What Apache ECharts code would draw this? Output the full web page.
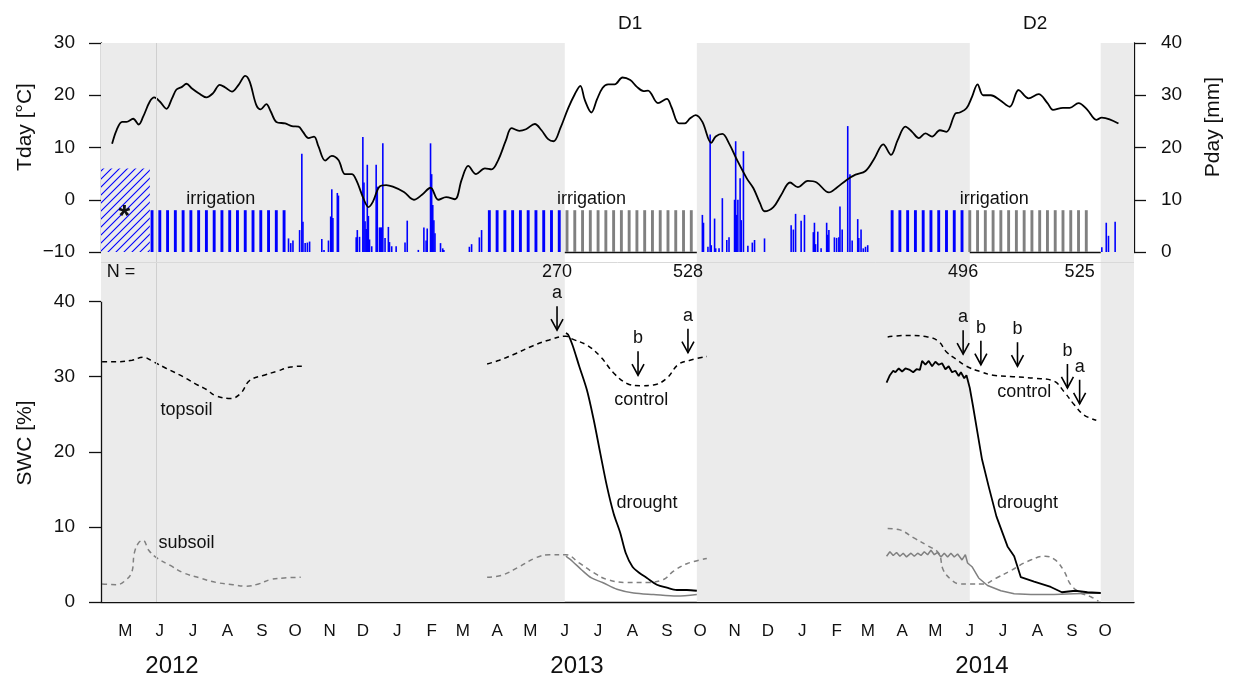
<!DOCTYPE html>
<html>
<head>
<meta charset="utf-8">
<title>Tday, Pday and SWC 2012–2014</title>
<script src="https://cdn.jsdelivr.net/npm/echarts@6/dist/echarts.min.js"></script>
<style>
  html, body { margin: 0; padding: 0; background: #ffffff; }
  #chart { width: 1238px; height: 678px; }
</style>
</head>
<body>
<div id="chart"></div>
<script>
// ---------- data ----------
const START = '2012-04-09';
const END = '2014-10-27';

// month ticks along the bottom axis
const monthTicks = ['2012-05-01','2012-06-01','2012-07-01','2012-08-01','2012-09-01','2012-10-01','2012-11-01','2012-12-01',
  '2013-01-01','2013-02-01','2013-03-01','2013-04-01','2013-05-01','2013-06-01','2013-07-01','2013-08-01','2013-09-01','2013-10-01','2013-11-01','2013-12-01',
  '2014-01-01','2014-02-01','2014-03-01','2014-04-01','2014-05-01','2014-06-01','2014-07-01','2014-08-01','2014-09-01','2014-10-01'];
const monthLabels = ['M','J','J','A','S','O','N','D','J','F','M','A','M','J','J','A','S','O','N','D','J','F','M','A','M','J','J','A','S','O'];
const yearTicks = ['2012-06-12','2013-06-12','2014-06-12'];
const yearLabels = ['2012','2013','2014'];

// roof-on drought periods D1, D2
const droughtPeriods = [['2013-06-01','2013-09-28'], ['2014-06-01','2014-09-27']];
const periodNames = ['D1', 'D2'];
const referenceDay = '2012-05-29';

// daily mean air temperature [°C]
const tday = [
  ['2012-04-19',10.7],['2012-04-23',13.3],['2012-04-28',14.9],['2012-05-02',14.9],['2012-05-08',15.5],['2012-05-13',14.4],
  ['2012-05-17',15.9],['2012-05-23',18.8],['2012-05-27',19.6],['2012-06-01',18.8],['2012-06-07',17.4],['2012-06-12',19.4],
  ['2012-06-16',21.1],['2012-06-21',21.6],['2012-06-25',22.2],['2012-06-30',21.3],['2012-07-06',20.4],['2012-07-13',19.6],
  ['2012-07-19',20.4],['2012-07-25',22.0],['2012-07-30',21.5],['2012-08-05',20.7],['2012-08-11',22.0],['2012-08-17',23.7],
  ['2012-08-21',22.6],['2012-08-27',18.1],['2012-08-31',17.3],['2012-09-05',18.3],['2012-09-09',16.9],['2012-09-14',14.9],
  ['2012-09-22',14.6],['2012-09-28',14.1],['2012-10-04',14.0],['2012-10-08',13.0],['2012-10-13',11.8],['2012-10-18',12.1],
  ['2012-10-22',10.2],['2012-10-28',7.5],['2012-11-03',8.4],['2012-11-09',7.6],['2012-11-15',4.9],['2012-11-21',4.9],
  ['2012-11-25',3.8],['2012-12-02',0.0],['2012-12-06',-1.4],['2012-12-10',-0.4],['2012-12-16',2.5],['2012-12-22',2.8],
  ['2012-12-28',2.5],['2013-01-07',1.5],['2013-01-16',0.0],['2013-01-23',0.9],['2013-01-31',2.3],['2013-02-07',0.0],
  ['2013-02-14',0.5],['2013-02-22',0.1],['2013-02-28',3.8],['2013-03-06',6.5],['2013-03-13',4.9],['2013-03-21',6.0],
  ['2013-03-27',5.8],['2013-04-02',7.6],['2013-04-09',11.4],['2013-04-14',13.7],['2013-04-21',13.2],['2013-04-27',13.5],
  ['2013-05-05',14.5],['2013-05-11',13.3],['2013-05-17',11.6],['2013-05-22',11.2],['2013-05-28',13.7],['2013-06-04',17.5],
  ['2013-06-10',20.2],['2013-06-15',21.8],['2013-06-19',19.1],['2013-06-25',16.7],['2013-06-30',19.2],['2013-07-05',21.4],
  ['2013-07-10',22.1],['2013-07-16',22.1],['2013-07-23',23.4],['2013-07-30',22.9],['2013-08-05',21.6],['2013-08-11',20.8],
  ['2013-08-15',20.9],['2013-08-24',18.5],['2013-09-01',19.3],['2013-09-05',17.8],['2013-09-12',14.6],['2013-09-17',14.6],
  ['2013-09-22',15.6],['2013-09-27',16.2],['2013-10-03',14.9],['2013-10-11',10.9],['2013-10-15',12.1],['2013-10-21',12.6],
  ['2013-10-27',10.8],['2013-11-03',7.7],['2013-11-12',4.1],['2013-11-18',2.2],['2013-11-24',-0.7],['2013-11-28',-2.2],
  ['2013-12-06',-1.4],['2013-12-13',0.9],['2013-12-21',3.3],['2013-12-28',2.4],['2014-01-06',3.6],['2014-01-14',3.3],
  ['2014-01-25',1.4],['2014-02-01',2.3],['2014-02-10',3.8],['2014-02-18',4.8],['2014-02-27',5.5],['2014-03-07',7.9],
  ['2014-03-15',10.6],['2014-03-22',8.6],['2014-03-28',11.4],['2014-04-04',14.0],['2014-04-10',13.0],['2014-04-16',11.8],
  ['2014-04-22',12.7],['2014-04-28',12.1],['2014-05-05',13.3],['2014-05-11',13.0],['2014-05-19',16.5],['2014-05-23',16.7],
  ['2014-05-29',17.5],['2014-06-03',19.7],['2014-06-08',22.1],['2014-06-13',20.0],['2014-06-20',20.0],['2014-06-28',19.1],
  ['2014-07-07',17.8],['2014-07-15',21.0],['2014-07-24',19.4],['2014-08-02',20.2],['2014-08-10',18.5],['2014-08-15',17.2],
  ['2014-08-24',17.6],['2014-08-30',17.6],['2014-09-07',18.5],['2014-09-15',17.2],['2014-09-23',15.3],['2014-09-28',15.7],
  ['2014-10-05',15.4],['2014-10-13',14.6]
];

// daily precipitation [mm]
const pday = [
  ['2012-09-25',2.6],['2012-09-27',1.7],['2012-09-29',2.2],['2012-10-05',4.2],['2012-10-07',18.8],['2012-10-08',5.8],
  ['2012-10-10',1.7],['2012-10-12',1.8],['2012-10-14',2.0],['2012-10-25',2.5],['2012-10-27',0.4],['2012-10-31',2.2],
  ['2012-11-02',6.8],['2012-11-03',12.0],['2012-11-04',6.5],['2012-11-08',11.3],['2012-11-09',10.8],['2012-11-25',2.8],
  ['2012-11-26',4.2],['2012-11-28',2.9],['2012-12-01',22.0],['2012-12-02',13.3],['2012-12-03',5.9],['2012-12-04',4.4],
  ['2012-12-05',16.7],['2012-12-06',6.9],['2012-12-07',2.4],['2012-12-09',1.1],['2012-12-13',16.7],['2012-12-14',12.5],
  ['2012-12-16',4.7],['2012-12-17',4.7],['2012-12-18',4.7],['2012-12-19',20.8],['2012-12-21',2.7],['2012-12-24',4.8],
  ['2012-12-25',1.9],['2012-12-27',1.1],['2012-12-31',1.1],['2013-01-08',1.8],['2013-01-10',6.0],['2013-01-20',0.4],
  ['2013-01-25',4.7],['2013-01-27',2.2],['2013-01-28',4.5],['2013-01-31',20.8],['2013-02-01',14.9],['2013-02-02',9.0],
  ['2013-02-03',6.1],['2013-02-04',3.6],['2013-02-09',1.7],['2013-02-11',0.7],['2013-02-12',0.4],['2013-03-07',1.0],
  ['2013-03-09',1.5],['2013-03-16',2.8],['2013-03-18',4.2],
  ['2013-10-03',7.1],['2013-10-04',5.6],['2013-10-08',1.0],['2013-10-10',22.5],['2013-10-11',1.3],['2013-10-14',6.4],
  ['2013-10-15',0.7],['2013-10-18',0.7],['2013-10-21',10.3],['2013-10-25',2.3],['2013-10-27',2.8],['2013-11-01',10.0],
  ['2013-11-02',21.2],['2013-11-03',7.1],['2013-11-04',10.0],['2013-11-06',14.1],['2013-11-07',6.1],['2013-11-09',19.3],
  ['2013-11-13',1.2],['2013-11-17',1.8],['2013-11-19',2.3],['2013-11-28',2.6],['2013-12-22',5.1],['2013-12-24',4.3],
  ['2013-12-26',7.3],['2013-12-31',6.0],['2014-01-03',7.1],['2014-01-11',3.8],['2014-01-12',5.6],['2014-01-13',1.5],
  ['2014-01-15',3.9],['2014-01-18',0.7],['2014-01-23',5.6],['2014-01-24',3.3],['2014-01-25',4.2],['2014-01-30',2.8],
  ['2014-02-01',2.7],['2014-02-03',2.8],['2014-02-04',8.7],['2014-02-06',4.3],['2014-02-11',24.1],['2014-02-13',14.9],
  ['2014-02-15',2.2],['2014-02-20',6.3],['2014-02-21',2.7],['2014-02-23',4.3],['2014-02-25',0.7],['2014-02-27',1.0],
  ['2014-03-01',1.3],
  ['2014-09-28',0.9],['2014-10-02',5.6],['2014-10-04',3.1],['2014-10-10',5.8]
];

// weekly irrigation [mm]: all plots (blue) and control plots under the roof (grey)
const irrigationAll = [
  ['2012-05-25',8],['2012-06-01',8],['2012-06-08',8],['2012-06-15',8],['2012-06-22',8],['2012-06-29',8],['2012-07-06',8],
  ['2012-07-13',8],['2012-07-20',8],['2012-07-27',8],['2012-08-03',8],['2012-08-10',8],['2012-08-17',8],['2012-08-24',8],
  ['2012-08-31',8],['2012-09-07',8],['2012-09-14',8],['2012-09-21',8],
  ['2013-03-25',8],['2013-04-01',8],['2013-04-08',8],['2013-04-15',8],['2013-04-22',8],['2013-04-29',8],['2013-05-06',8],
  ['2013-05-13',8],['2013-05-20',8],['2013-05-27',8],
  ['2014-03-23',8],['2014-03-30',8],['2014-04-06',8],['2014-04-13',8],['2014-04-20',8],['2014-04-27',8],['2014-05-04',8],
  ['2014-05-11',8],['2014-05-18',8],['2014-05-25',8]
];
const irrigationControl = [
  ['2013-06-03',8],['2013-06-10',8],['2013-06-17',8],['2013-06-24',8],['2013-07-01',8],['2013-07-08',8],['2013-07-15',8],
  ['2013-07-22',8],['2013-07-29',8],['2013-08-05',8],['2013-08-12',8],['2013-08-19',8],['2013-08-26',8],['2013-09-02',8],
  ['2013-09-09',8],['2013-09-16',8],['2013-09-23',8],
  ['2014-06-01',8],['2014-06-08',8],['2014-06-15',8],['2014-06-22',8],['2014-06-29',8],['2014-07-06',8],['2014-07-13',8],
  ['2014-07-20',8],['2014-07-27',8],['2014-08-03',8],['2014-08-10',8],['2014-08-17',8],['2014-08-24',8],['2014-08-31',8],
  ['2014-09-07',8],['2014-09-14',8]
];
// block irrigation before the weekly schedule (*)
const initialIrrigation = { from: '2012-04-09', to: '2012-05-23', mm: 16 };

// soil water content [%]
const topsoil2012 = [['2012-04-10',32.0],['2012-04-23',32.0],['2012-05-07',32.2],['2012-05-17',32.6],['2012-05-26',32.0],
  ['2012-06-07',31.1],['2012-06-22',30.0],['2012-07-05',28.9],['2012-07-13',28.3],['2012-07-21',27.5],['2012-08-04',27.1],
  ['2012-08-13',27.8],['2012-08-21',29.5],['2012-09-03',30.2],['2012-09-14',30.7],['2012-09-27',31.3],['2012-10-07',31.4]];
const subsoil2012 = [['2012-04-10',2.4],['2012-04-23',2.3],['2012-05-02',3.0],['2012-05-07',4.1],['2012-05-09',6.5],
  ['2012-05-13',7.9],['2012-05-17',8.2],['2012-05-22',6.9],['2012-05-29',5.9],['2012-06-10',4.9],['2012-06-22',3.9],
  ['2012-07-07',3.2],['2012-07-22',2.6],['2012-08-06',2.3],['2012-08-18',2.1],['2012-08-29',2.4],['2012-09-09',3.0],
  ['2012-09-21',3.2],['2012-10-06',3.3]];

const controlTop2013 = [['2013-03-23',31.7],['2013-04-03',32.2],['2013-04-18',33.1],['2013-05-03',34.1],['2013-05-18',34.9],
  ['2013-06-02',35.4],['2013-06-08',35.0],['2013-06-21',34.2],['2013-07-03',32.7],['2013-07-15',30.5],['2013-07-27',29.1],
  ['2013-08-08',28.8],['2013-08-20',28.9],['2013-09-01',29.8],['2013-09-11',31.6],['2013-09-22',32.2],['2013-10-07',32.7]];
const controlSub2013 = [['2013-03-23',3.3],['2013-04-06',3.6],['2013-04-21',4.7],['2013-05-06',5.9],['2013-05-18',6.3],
  ['2013-06-02',6.3],['2013-06-14',5.2],['2013-06-27',3.9],['2013-07-09',3.0],['2013-07-27',2.6],['2013-08-14',2.6],
  ['2013-08-29',3.0],['2013-09-07',4.1],['2013-09-19',5.1],['2013-10-07',5.8]];
const droughtTop2013 = [['2013-06-02',35.8],['2013-06-04',35.6],['2013-06-08',34.2],['2013-06-14',31.4],['2013-06-21',28.2],
  ['2013-06-27',24.3],['2013-07-03',19.8],['2013-07-09',15.4],['2013-07-15',11.8],['2013-07-21',9.2],['2013-07-26',6.5],
  ['2013-08-01',4.7],['2013-08-07',3.9],['2013-08-14',3.2],['2013-08-23',2.3],['2013-09-01',1.9],['2013-09-10',1.6],
  ['2013-09-19',1.6],['2013-09-28',1.5]];
const droughtSub2013 = [['2013-06-02',6.1],['2013-06-08',5.4],['2013-06-16',4.3],['2013-06-25',3.2],['2013-07-05',2.6],
  ['2013-07-18',1.7],['2013-08-02',1.2],['2013-08-20',1.0],['2013-09-10',0.8],['2013-09-28',1.0]];

const controlTop2014 = [['2014-03-19',35.3],['2014-04-05',35.5],['2014-04-24',35.3],['2014-05-04',34.7],['2014-05-11',33.3],
  ['2014-05-20',32.3],['2014-05-29',31.4],['2014-06-10',30.7],['2014-06-22',30.2],['2014-07-10',30.0],['2014-07-29',29.8],
  ['2014-08-16',29.4],['2014-08-25',28.0],['2014-09-03',26.3],['2014-09-12',24.9],['2014-09-23',24.2]];
const controlSub2014 = [['2014-03-19',9.8],['2014-03-30',9.6],['2014-04-12',8.5],['2014-04-24',7.5],['2014-05-04',6.5],
  ['2014-05-08',4.3],['2014-05-15',3.0],['2014-05-23',2.4],['2014-06-01',2.4],['2014-06-13',2.4],['2014-06-25',3.2],
  ['2014-07-07',4.1],['2014-07-23',5.4],['2014-08-08',6.1],['2014-08-17',5.6],['2014-08-25',4.1],['2014-08-31',2.3],
  ['2014-09-09',1.2],['2014-09-18',0.7],['2014-09-25',0.1]];
const droughtTop2014 = [['2014-03-18',29.2],['2014-03-21',30.2],['2014-03-24',30.8],['2014-03-26',30.6],['2014-03-29',31.1],
  ['2014-04-01',30.7],['2014-04-04',31.1],['2014-04-08',30.9],['2014-04-11',30.6],['2014-04-14',31.0],['2014-04-17',30.9],
  ['2014-04-19',32.1],['2014-04-22',31.6],['2014-04-25',32.1],['2014-04-28',31.4],['2014-05-01',32.0],['2014-05-04',31.6],
  ['2014-05-07',31.8],['2014-05-10',31.0],['2014-05-13',31.4],['2014-05-16',30.6],['2014-05-19',30.8],['2014-05-22',30.1],
  ['2014-05-24',30.6],['2014-05-27',29.8],['2014-05-29',30.2],['2014-06-01',28.5],['2014-06-04',26.0],['2014-06-08',22.5],
  ['2014-06-12',19.0],['2014-06-18',15.4],['2014-06-25',11.4],['2014-07-05',7.4],['2014-07-11',6.1],['2014-07-17',3.3],
  ['2014-07-29',2.7],['2014-08-13',2.0],['2014-08-23',1.3],['2014-09-04',1.5],['2014-09-15',1.3],['2014-09-27',1.2]];
const droughtSub2014 = [['2014-03-18',6.1],['2014-03-21',6.7],['2014-03-24',6.2],['2014-03-27',6.6],['2014-03-30',6.1],
  ['2014-04-02',6.5],['2014-04-05',6.0],['2014-04-09',6.5],['2014-04-12',6.1],['2014-04-15',6.5],['2014-04-18',6.2],
  ['2014-04-21',6.7],['2014-04-24',6.3],['2014-04-27',6.9],['2014-04-30',6.3],['2014-05-03',6.6],['2014-05-06',6.0],
  ['2014-05-09',6.5],['2014-05-12',6.0],['2014-05-15',6.5],['2014-05-18',6.0],['2014-05-21',6.4],['2014-05-25',5.6],
  ['2014-05-28',6.3],['2014-05-30',5.2],['2014-06-03',4.7],['2014-06-09',3.2],['2014-06-17',2.2],['2014-06-29',1.5],
  ['2014-07-11',1.1],['2014-07-26',1.0],['2014-08-16',1.0],['2014-09-03',1.1],['2014-09-27',1.2]];

// sampling dates with significance letters, and sample sizes
const samplingArrows = [['2013-05-25',36.2],['2013-08-06',30.2],['2013-09-20',33.2],
  ['2014-05-26',33.0],['2014-06-11',31.6],['2014-07-14',31.4],['2014-08-28',28.5],['2014-09-08',26.4]];
const samplingLetters = ['a','b','a','a','b','b','b','a'];
const sampleSizes = [['2013-05-25','270'],['2013-09-20','528'],['2014-05-26','496'],['2014-09-08','525']];

// text annotations [date, value, text]
const topNotes = [['2012-07-26',10.1,'irrigation'],['2013-06-25',10.1,'irrigation'],['2014-06-23',10.1,'irrigation']];
const bottomNotes = [['2012-06-25',25.5,'topsoil'],['2012-06-25',7.85,'subsoil'],['2013-08-09',26.9,'control'],
  ['2013-08-14',13.2,'drought'],['2014-07-20',27.9,'control'],['2014-07-23',13.2,'drought']];

// ---------- helpers ----------
const FONT = '"Liberation Sans", Arial, Helvetica, sans-serif';
const INK = '#111111';
const SHADE = '#ebebeb';
const BLUE = '#0000ff';
const GREY = '#808080';
const toTime = s => { const p = s.split('-').map(Number); return new Date(p[0], p[1] - 1, p[2]).getTime(); };
const asTime = arr => arr.map(d => [toTime(d[0]), d[1]]);
const tMin = toTime(START), tMax = toTime(END);
const monthTimes = monthTicks.map(toTime);
const yearTimes = yearTicks.map(toTime);
const nearestLabel = (times, labels) => v => {
  for (let i = 0; i < times.length; i++) if (Math.abs(times[i] - v) < 43200000) return labels[i];
  return '';
};
const minus = v => (v < 0 ? '\u2212' + Math.abs(v) : String(v));

// shaded (non-drought) intervals
const shadeIntervals = [
  [START, droughtPeriods[0][0]],
  [droughtPeriods[0][1], droughtPeriods[1][0]],
  [droughtPeriods[1][1], END]
];

function hatch() {
  const c = document.createElement('canvas');
  c.width = 8; c.height = 8;
  const g = c.getContext('2d');
  g.strokeStyle = BLUE; g.lineWidth = 1.1;
  g.beginPath();
  g.moveTo(0, 8); g.lineTo(8, 0);
  g.moveTo(-2, 2); g.lineTo(2, -2);
  g.moveTo(6, 10); g.lineTo(10, 6);
  g.stroke();
  return c;
}

const lineSeries = (name, data, color, type, width, yIdx, xIdx, smooth) => ({
  name, type: 'line', data: asTime(data), xAxisIndex: xIdx, yAxisIndex: yIdx, showSymbol: false, symbol: 'none',
  smooth: smooth, z: 4, silent: true,
  lineStyle: { color, width, type }
});
const noteSeries = (data, xIdx, yIdx, size, extra) => ({
  type: 'scatter', xAxisIndex: xIdx, yAxisIndex: yIdx, symbolSize: 1, clip: false, z: 6, silent: true,
  itemStyle: { color: 'rgba(0,0,0,0)', opacity: 1 },
  data: data.map(d => ({ value: [toTime(d[0]), d[1]], name: d[2] })),
  label: Object.assign({ show: true, position: 'inside', formatter: p => p.name, fontSize: size, fontFamily: FONT,
    color: INK, opacity: 1 }, extra || {})
});
const dateAxis = (grid, extra) => Object.assign({
  type: 'value', gridIndex: grid, min: tMin, max: tMax, scale: true,
  axisLine: { show: false }, axisTick: { show: false }, axisLabel: { show: false }, splitLine: { show: false }
}, extra || {});

const chart = echarts.init(document.getElementById('chart'), null, { renderer: 'canvas' });

const option = {
  animation: false,
  backgroundColor: '#ffffff',
  grid: [
    { left: 101, top: 43, width: 1033, height: 209 },
    { left: 101, top: 252, width: 1033, height: 350.3 }
  ],
  xAxis: [
    dateAxis(0, { axisLine: { show: true, onZero: false, lineStyle: { color: INK, width: 1.3 } } }),
    dateAxis(0, { show: false }),
    dateAxis(1, { position: 'bottom',
      axisLine: { show: true, onZero: false, lineStyle: { color: INK, width: 1.3 } },
      axisLabel: { show: true, customValues: monthTimes, formatter: nearestLabel(monthTimes, monthLabels), fontSize: 17,
        fontFamily: FONT, color: INK, margin: 21, hideOverlap: false } }),
    dateAxis(1, { position: 'bottom',
      axisLabel: { show: true, customValues: yearTimes, formatter: nearestLabel(yearTimes, yearLabels), fontSize: 24,
        fontFamily: FONT, color: INK, margin: 52, hideOverlap: false } })
  ],
  yAxis: [
    { type: 'value', gridIndex: 0, min: -10, max: 30, interval: 10, position: 'left',
      axisLine: { show: true, onZero: false, lineStyle: { color: INK, width: 1.3 } },
      axisTick: { show: true, length: 12, lineStyle: { color: INK, width: 1.3 } },
      axisLabel: { formatter: minus, fontSize: 19, fontFamily: FONT, color: INK, margin: 26 },
      splitLine: { show: false } },
    { type: 'value', gridIndex: 0, min: 0, max: 40, interval: 10, position: 'right',
      axisLine: { show: true, onZero: false, lineStyle: { color: INK, width: 1.3 } },
      axisTick: { show: true, length: 12, lineStyle: { color: INK, width: 1.3 } },
      axisLabel: { fontSize: 19, fontFamily: FONT, color: INK, margin: 27 },
      splitLine: { show: false } },
    { type: 'value', gridIndex: 1, min: 0, max: 46.61, interval: 10, position: 'left',
      axisLine: { show: false },
      axisTick: { show: true, length: 12, customValues: [0, 10, 20, 30, 40], lineStyle: { color: INK, width: 1.3 } },
      axisLabel: { customValues: [0, 10, 20, 30, 40], fontSize: 19, fontFamily: FONT, color: INK, margin: 26 },
      splitLine: { show: false } }
  ],
  graphic: [
    { type: 'text', x: 25, y: 127, rotation: Math.PI / 2, silent: true,
      style: { text: 'Tday [°C]', font: '21px ' + FONT, fill: INK, align: 'center', verticalAlign: 'middle' } },
    { type: 'text', x: 1213, y: 127, rotation: Math.PI / 2, silent: true,
      style: { text: 'Pday [mm]', font: '21px ' + FONT, fill: INK, align: 'center', verticalAlign: 'middle' } },
    { type: 'text', x: 25, y: 443, rotation: Math.PI / 2, silent: true,
      style: { text: 'SWC [%]', font: '21px ' + FONT, fill: INK, align: 'center', verticalAlign: 'middle' } }
  ],
  series: [
    // background shading, top panel
    { type: 'line', xAxisIndex: 0, yAxisIndex: 0, data: [], z: 0, silent: true,
      markArea: { silent: true, itemStyle: { color: SHADE },
        data: shadeIntervals.map(iv => [{ xAxis: toTime(iv[0]) }, { xAxis: toTime(iv[1]) }]) },
      markLine: { silent: true, symbol: 'none', label: { show: false },
        lineStyle: { color: '#cfcfcf', width: 1, type: 'solid' },
        data: [{ xAxis: toTime(referenceDay) }] } },
    // background shading, bottom panel, and its left axis line
    { type: 'line', xAxisIndex: 2, yAxisIndex: 2, data: [], z: 0, silent: true,
      markArea: { silent: true, itemStyle: { color: SHADE },
        data: shadeIntervals.map(iv => [{ xAxis: toTime(iv[0]) }, { xAxis: toTime(iv[1]) }]) },
      markLine: { silent: true, symbol: 'none', label: { show: false },
        data: [
          { xAxis: toTime(referenceDay), lineStyle: { color: '#cfcfcf', width: 1, type: 'solid' } },
          { yAxis: 45.3, lineStyle: { color: '#d9d9d9', width: 1, type: 'solid' } },
          [{ coord: [tMin, 0], lineStyle: { color: INK, width: 1.3, type: 'solid' } }, { coord: [tMin, 40] }]
        ] } },
    // initial block irrigation (hatched)
    { type: 'line', xAxisIndex: 0, yAxisIndex: 1, data: [], z: 1, silent: true,
      markArea: { silent: true, itemStyle: { color: { image: hatch(), repeat: 'repeat' } },
        data: [[{ xAxis: toTime(initialIrrigation.from), yAxis: 0 }, { xAxis: toTime(initialIrrigation.to), yAxis: initialIrrigation.mm }]] } },
    // precipitation
    { name: 'Pday', type: 'bar', xAxisIndex: 0, yAxisIndex: 1, data: asTime(pday), barWidth: 1.6, z: 2, silent: true,
      itemStyle: { color: BLUE } },
    // irrigation
    { name: 'irrigation', type: 'bar', xAxisIndex: 1, yAxisIndex: 1, barWidth: 2.9, z: 2, silent: true,
      data: asTime(irrigationAll).map(d => ({ value: d, itemStyle: { color: BLUE } }))
        .concat(asTime(irrigationControl).map(d => ({ value: d, itemStyle: { color: GREY } }))) },
    // temperature
    lineSeries('Tday', tday, '#000000', 'solid', 1.8, 0, 0, 0.35),
    // top panel texts
    noteSeries(topNotes, 0, 1, 18),
    noteSeries([[ '2012-04-30', 7.0, '*' ]], 0, 1, 30, { fontWeight: 'bold', offset: [0, 1] }),
    noteSeries(droughtPeriods.map((p, i) => {
      const mid = new Date((toTime(p[0]) + toTime(p[1])) / 2);
      const s = mid.getFullYear() + '-' + String(mid.getMonth() + 1).padStart(2, '0') + '-' + String(mid.getDate()).padStart(2, '0');
      return [s, 43.6, periodNames[i]];
    }), 0, 1, 19),
    // soil water content
    lineSeries('topsoil 2012', topsoil2012, '#000000', [5, 4], 1.5, 2, 2, 0.4),
    lineSeries('subsoil 2012', subsoil2012, GREY, [5, 4], 1.5, 2, 2, 0.4),
    lineSeries('control top 2013', controlTop2013, '#000000', [5, 4], 1.5, 2, 2, 0.4),
    lineSeries('control sub 2013', controlSub2013, GREY, [5, 4], 1.5, 2, 2, 0.4),
    lineSeries('drought sub 2013', droughtSub2013, GREY, 'solid', 1.5, 2, 2, 0.3),
    lineSeries('drought top 2013', droughtTop2013, '#000000', 'solid', 1.8, 2, 2, 0.3),
    lineSeries('control top 2014', controlTop2014, '#000000', [5, 4], 1.5, 2, 2, 0.4),
    lineSeries('control sub 2014', controlSub2014, GREY, [5, 4], 1.5, 2, 2, 0.4),
    lineSeries('drought sub 2014', droughtSub2014, GREY, 'solid', 1.5, 2, 2, 0),
    lineSeries('drought top 2014', droughtTop2014, '#000000', 'solid', 1.8, 2, 2, 0),
    // sampling arrows with letters
    { type: 'custom', xAxisIndex: 2, yAxisIndex: 2, z: 7, clip: false, silent: true,
      data: asTime(samplingArrows), encode: { x: 0, y: 1 },
      renderItem: (params, api) => {
        const p = api.coord([api.value(0), api.value(1)]);
        const x = p[0], y = p[1];
        return { type: 'group', children: [
          { type: 'line', shape: { x1: x, y1: y - 24, x2: x, y2: y }, style: { stroke: '#000', lineWidth: 1.6 } },
          { type: 'polyline', shape: { points: [[x - 6, y - 11], [x, y], [x + 6, y - 11]] },
            style: { stroke: '#000', lineWidth: 1.6, fill: null } },
          { type: 'text', x: x, y: y - 37,
            style: { text: samplingLetters[params.dataIndex], font: '18px ' + FONT, fill: INK, align: 'center', verticalAlign: 'middle' } }
        ] };
      } },
    // bottom panel texts
    noteSeries(bottomNotes, 2, 2, 18),
    noteSeries(sampleSizes.map(d => [d[0], 43.9, d[1]]).concat([['2012-04-27', 43.9, 'N =']]), 2, 2, 18)
  ]
};

chart.setOption(option);
</script>
</body>
</html>
